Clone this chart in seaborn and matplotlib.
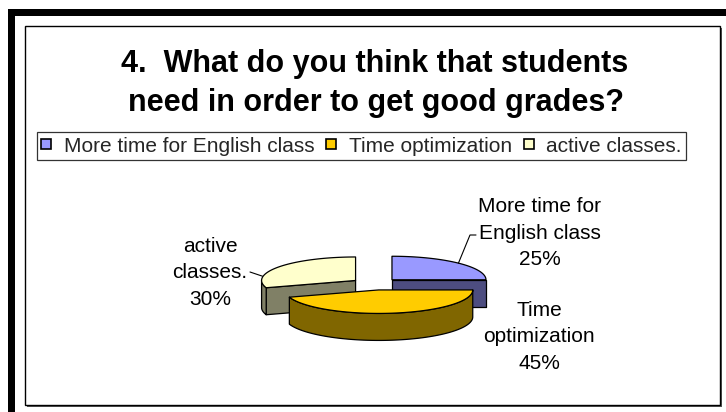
import numpy as np
import matplotlib
matplotlib.use("Agg")
import matplotlib.pyplot as plt
from matplotlib.patches import Polygon, Rectangle
from matplotlib.lines import Line2D
import seaborn as sns

# ---------------- data ----------------
categories = ["More time for English class", "Time optimization", "active classes."]
values = [25, 45, 30]
slice_labels = ["More time for\nEnglish class", "Time\noptimization", "active\nclasses."]
title_lines = ["4.  What do you think that students", "need in order to get good grades?"]

top_colors = ["#9999FF", "#FFCC00", "#FFFFCC"]
side_colors = ["#4D4D80", "#806600", "#808066"]

# ---------------- style ----------------
sns.set_theme(style="white")
plt.rcParams["font.family"] = ["Liberation Sans", "DejaVu Sans"]

fig = plt.figure(figsize=(7.26, 4.12), dpi=100)
fig.patch.set_facecolor("white")
ax = fig.add_axes([0, 0, 1, 1])
ax.set_xlim(0, 726)
ax.set_ylim(412, 0)
ax.axis("off")

# outer heavy frame (top and left bars)
ax.add_patch(Rectangle((8, 9), 718, 7, facecolor="black", edgecolor="none"))
ax.add_patch(Rectangle((8, 9), 7, 404, facecolor="black", edgecolor="none"))
# chart area with shadow
ax.add_patch(Rectangle((27, 28), 695, 379, facecolor="#555555", edgecolor="none"))
ax.add_patch(Rectangle((25, 26), 695, 379, facecolor="white", edgecolor="black", lw=1))

# title
ax.text(375, 72, title_lines[0], ha="center", va="baseline", fontsize=22, fontweight="bold", color="black")
ax.text(376, 111, title_lines[1], ha="center", va="baseline", fontsize=22, fontweight="bold", color="black")

# ---------------- 3D exploded pie ----------------
CX, CY, R, RY, H, EXPL = 375, 284, 94, 23.5, 27, 24
fr = np.array(values, dtype=float) / np.sum(values)
starts = 90 - 360 * np.concatenate([[0], np.cumsum(fr)[:-1]])
ends = starts - 360 * fr


def pt(c, ang, dz=0.0):
    a = np.radians(ang)
    return (c[0] + R * np.cos(a), c[1] - RY * np.sin(a) + dz)


centers = []
for a1, a2 in zip(starts, ends):
    mid = np.radians((a1 + a2) / 2)
    centers.append((CX + EXPL * np.cos(mid), CY - EXPL * (RY / R) * np.sin(mid)))

order = sorted(range(len(values)), key=lambda i: centers[i][1])
edge_kw = dict(edgecolor="black", lw=0.9, joinstyle="round")
for i in order:
    a1, a2, c = starts[i], ends[i], centers[i]
    # radial walls facing the viewer
    for a, nrm in ((a1, a1 + 90), (a2, a2 - 90)):
        if np.sin(np.radians(nrm)) < -1e-6:
            p = pt(c, a)
            quad = [c, p, (p[0], p[1] + H), (c[0], c[1] + H)]
            ax.add_patch(Polygon(quad, closed=True, facecolor=side_colors[i], **edge_kw))
    # outer rim, front half only
    for k in (-1, 0, 1):
        lo, hi = max(a2, -180 + 360 * k), min(a1, 360 * k)
        if hi - lo > 0.5:
            angs = np.linspace(lo, hi, 120)
            topp = [pt(c, a) for a in angs]
            botp = [pt(c, a, H) for a in angs[::-1]]
            ax.add_patch(Polygon(topp + botp, closed=True, facecolor=side_colors[i], **edge_kw))
    # top face
    angs = np.linspace(a1, a2, 200)
    poly = [c] + [pt(c, a) for a in angs]
    ax.add_patch(Polygon(poly, closed=True, facecolor=top_colors[i], **edge_kw))

# data labels
label_pos = [(540, 233), (539, 337), (210, 273)]
for i, (lx, ly) in enumerate(label_pos):
    ax.text(lx, ly, f"{slice_labels[i]}\n{values[i]}%", ha="center", va="center",
            fontsize=15, color="black", linespacing=1.5)

# leader lines
mid0 = (starts[0] + ends[0]) / 2
p0 = pt(centers[0], mid0)
ax.plot([476, 470, p0[0]], [235, 235, p0[1]], color="black", lw=0.8)
p2 = pt(centers[2], 172)
ax.plot([250, p2[0]], [272, p2[1] - 1], color="black", lw=0.8)

# legend
handles = [Line2D([0], [0], marker="s", linestyle="none", markersize=7,
                  markerfacecolor=top_colors[i], markeredgecolor="black", markeredgewidth=1.2)
           for i in range(len(categories))]
leg = fig.legend(handles, categories, loc="center", bbox_to_anchor=(361.5 / 726, 1 - 146 / 412),
                 ncol=3, fontsize=15, frameon=True, fancybox=False, shadow=False,
                 handlelength=0.5, handletextpad=0.6, columnspacing=0.55,
                 borderpad=0.2, borderaxespad=0)
leg.get_frame().set_edgecolor("black")
leg.get_frame().set_linewidth(0.9)
leg.get_frame().set_facecolor("white")

fig.savefig("out.png", dpi=100, facecolor="white")
